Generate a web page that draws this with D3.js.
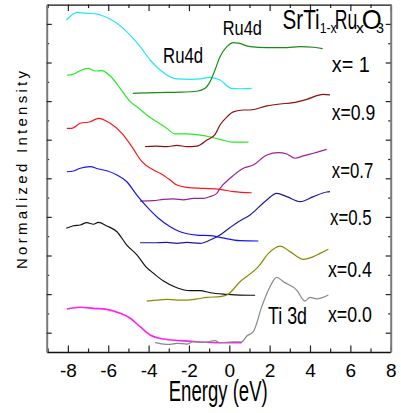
<!DOCTYPE html>
<html><head><meta charset="utf-8">
<script src="https://cdn.jsdelivr.net/npm/d3@7"></script>
<style>body{margin:0;background:#fff}svg{display:block}</style>
</head><body>
<svg id="c" width="401" height="413"></svg>
<script>
// ---------- data (Energy in eV, normalized intensity with vertical offsets) ----------
const xMajorTicks = [-8,-6,-4,-2,0,2,4,6,8];
const xMinorTicks = [-9,-7,-5,-3,-1,1,3,5,7];
const yMajorTicks = [1,3,5,7,9,11,13,15,17];
const yMinorTicks = [2,4,6,8,10,12,14,16];

const compositions = ["x= 1","x=0.9","x=0.7","x=0.5","x=0.4","x=0.0"];

const occ_x10 = [[-8.08,17.20],[-7.80,17.46],[-7.55,17.60],[-7.06,17.55],[-6.56,17.51],[-5.99,17.29],[-5.57,17.03],[-5.00,16.51],[-4.42,15.82],[-3.92,15.13],[-3.43,14.61],[-2.60,14.15],[-1.94,14.13],[-1.45,14.15],[-0.95,14.23],[-0.46,14.09],[0.12,13.66],[0.50,13.64],[1.11,13.66]];
const unocc_x10 = [[-4.78,13.40],[-3.59,13.44],[-2.44,13.46],[-1.61,13.51],[-1.20,13.66],[-1.00,13.92],[-0.75,14.50],[-0.46,15.30],[-0.12,15.82],[0.20,16.03],[0.45,16.00],[1.03,15.82],[1.86,15.77],[2.85,15.77],[3.51,15.82],[4.17,15.79],[4.63,15.72]];
const occ_x09 = [[-8.05,14.34],[-7.72,14.40],[-7.39,14.58],[-6.98,14.70],[-6.65,14.56],[-6.32,14.58],[-5.90,14.30],[-5.41,13.66],[-4.91,12.97],[-4.58,12.71],[-4.09,12.28],[-3.59,11.93],[-3.10,11.59],[-2.68,11.30],[-2.10,11.30],[-1.28,11.21],[-0.46,11.02],[0.20,10.87],[0.95,10.87]];
const unocc_x09 = [[-4.17,10.64],[-3.68,10.67],[-3.10,10.64],[-2.60,10.71],[-2.10,10.64],[-1.61,10.67],[-1.11,10.98],[-0.70,11.28],[-0.46,11.76],[-0.12,12.18],[0.20,12.44],[0.70,12.54],[1.03,12.54],[1.86,12.75],[2.52,12.85],[3.17,12.92],[3.84,13.09],[4.66,13.35],[4.99,13.32]];
const occ_x07 = [[-8.05,11.59],[-7.80,11.59],[-7.39,11.85],[-6.89,11.93],[-6.48,12.11],[-5.90,11.85],[-5.32,11.33],[-4.83,10.64],[-4.33,9.86],[-3.76,9.43],[-3.43,9.26],[-2.93,8.91],[-2.60,8.65],[-2.10,8.53],[-1.28,8.48],[-0.46,8.43],[0.20,8.31],[1.11,8.25]];
const unocc_x07 = [[-4.42,7.82],[-3.76,7.84],[-3.26,7.91],[-2.77,7.93],[-2.27,7.88],[-1.78,7.96],[-1.28,7.96],[-0.95,8.05],[-0.62,8.22],[-0.46,8.48],[0.04,9.00],[0.70,9.52],[1.19,9.69],[1.86,10.21],[2.43,10.33],[2.85,10.26],[3.26,10.04],[3.67,10.16],[4.17,10.30],[4.83,10.50]];
const occ_x05 = [[-8.05,9.34],[-7.72,9.38],[-7.39,9.52],[-6.89,9.60],[-6.48,9.48],[-6.07,9.39],[-5.57,9.17],[-5.08,8.82],[-4.58,8.13],[-4.09,7.53],[-3.51,6.93],[-2.93,6.49],[-2.44,6.23],[-1.61,6.06],[-0.95,6.03],[-0.46,5.94],[0.53,5.77],[1.44,5.75]];
const unocc_x05 = [[-4.42,5.66],[-3.76,5.66],[-3.10,5.68],[-2.60,5.63],[-2.10,5.68],[-1.45,5.63],[-0.95,5.80],[-0.46,6.06],[0.04,6.45],[0.45,6.75],[1.03,7.10],[1.86,7.88],[2.35,8.22],[2.85,8.05],[3.51,7.79],[4.17,8.05],[4.83,8.29],[4.99,8.31]];
const occ_x04 = [[-8.08,6.41],[-7.72,6.54],[-7.39,6.58],[-7.06,6.70],[-6.73,6.62],[-6.48,6.72],[-6.07,6.53],[-5.57,6.23],[-5.08,5.54],[-4.58,5.03],[-4.09,4.37],[-3.76,4.08],[-3.26,3.68],[-2.60,3.33],[-1.94,3.18],[-1.45,3.18],[-0.95,3.07],[-0.12,2.99],[0.53,2.95],[1.28,2.94]];
const unocc_x04 = [[-4.09,2.64],[-3.59,2.69],[-3.10,2.73],[-2.60,2.69],[-2.10,2.69],[-1.61,2.75],[-1.11,2.83],[-0.46,2.87],[-0.12,2.95],[0.53,3.64],[1.44,4.42],[1.94,5.11],[2.52,5.49],[3.01,5.20],[3.67,4.80],[4.17,4.94],[4.50,5.11],[4.91,5.32]];
const occ_x00 = [[-8.05,2.23],[-7.39,2.32],[-6.73,2.26],[-6.07,2.21],[-5.41,2.01],[-4.91,1.75],[-4.42,1.31],[-3.92,0.88],[-3.26,0.67],[-2.44,0.59],[-1.61,0.53],[-0.46,0.48],[0.62,0.48]];
const unocc_x00 = [[-3.68,0.50],[-3.26,0.41],[-2.93,0.40],[-2.60,0.45],[-2.10,0.41],[-1.78,0.53],[-1.28,0.50],[-0.70,0.59],[-0.46,0.48],[0.20,0.53],[0.62,0.53],[0.87,0.83],[1.19,1.05],[1.61,2.35],[1.94,3.21],[2.35,3.87],[2.68,3.64],[3.34,3.21],[3.75,2.64],[4.00,2.83],[4.33,2.75],[4.91,2.95]];

// styles (separate from data)
const seriesList = [
  {d: occ_x10, c: "#22e6f5", w: 1.2},
  {d: unocc_x10, c: "#168c16", w: 1.2},
  {d: occ_x09, c: "#22ee22", w: 1.2},
  {d: unocc_x09, c: "#8b1111", w: 1.2},
  {d: occ_x07, c: "#ff1515", w: 1.2},
  {d: unocc_x07, c: "#992299", w: 1.2},
  {d: occ_x05, c: "#1515ee", w: 1.2},
  {d: unocc_x05, c: "#1a1a99", w: 1.2},
  {d: occ_x04, c: "#111111", w: 1.2},
  {d: unocc_x04, c: "#8a8a00", w: 1.2},
  {d: occ_x00, c: "#ff22ee", w: 1.6},
  {d: unocc_x00, c: "#888888", w: 1.2}
];

// ---------- chart ----------
const FONT = "'Liberation Sans', Arial, Helvetica, sans-serif";
const svg = d3.select("#c");
const x = d3.scaleLinear().domain([-9.05, 8]).range([46.7, 390.7]);
const y = d3.scaleLinear().domain([0, 18]).range([352, 4.6]);

function clean(g, domainColor, domainWidth){
  g.select(".domain").attr("stroke", domainColor).attr("stroke-width", domainWidth);
  g.selectAll(".tick line").attr("stroke", "#222").attr("stroke-width", 1.2);
  g.attr("font-family", FONT);
}
function minor(g){ g.select(".domain").remove(); g.selectAll(".tick line").attr("stroke","#222").attr("stroke-width",1.2); }

// minor ticks
svg.append("g").attr("transform", `translate(0,${y(0)})`)
  .call(d3.axisBottom(x).tickValues(xMinorTicks).tickSizeInner(-3.5).tickSizeOuter(0).tickFormat("")).call(minor);
svg.append("g").attr("transform", `translate(0,${y(18)})`)
  .call(d3.axisTop(x).tickValues(xMinorTicks).tickSizeInner(-3.5).tickSizeOuter(0).tickFormat("")).call(minor);
svg.append("g").attr("transform", `translate(${x(-9.05)},0)`)
  .call(d3.axisLeft(y).tickValues(yMinorTicks).tickSizeInner(-2.5).tickSizeOuter(0).tickFormat("")).call(minor);
svg.append("g").attr("transform", `translate(${x(8)},0)`)
  .call(d3.axisRight(y).tickValues(yMinorTicks).tickSizeInner(-2.5).tickSizeOuter(0).tickFormat("")).call(minor);

// major axes
const gB = svg.append("g").attr("transform", `translate(0,${y(0)})`)
  .call(d3.axisBottom(x).tickValues(xMajorTicks).tickSizeInner(-6.5).tickSizeOuter(0).tickPadding(11.5).tickFormat(d => String(d)))
  .call(g => clean(g, "#111", 1.5));
gB.selectAll("text").attr("font-size", 19).attr("fill", "#000").attr("font-family", FONT);
svg.append("g").attr("transform", `translate(0,${y(18)})`)
  .call(d3.axisTop(x).tickValues(xMajorTicks).tickSizeInner(-6.5).tickSizeOuter(0).tickFormat(""))
  .call(g => clean(g, "#111", 1.3));
svg.append("g").attr("transform", `translate(${x(-9.05)},0)`)
  .call(d3.axisLeft(y).tickValues(yMajorTicks).tickSizeInner(-5).tickSizeOuter(0).tickFormat(""))
  .call(g => clean(g, "#7a7a7a", 2));
svg.append("g").attr("transform", `translate(${x(8)},0)`)
  .call(d3.axisRight(y).tickValues(yMajorTicks).tickSizeInner(-5).tickSizeOuter(0).tickFormat(""))
  .call(g => clean(g, "#7a7a7a", 2));

// curves
const line = d3.line().x(d => x(d[0])).y(d => y(d[1])).curve(d3.curveMonotoneX);
svg.append("g").selectAll("path").data(seriesList).join("path")
  .attr("d", s => line(s.d))
  .attr("fill", "none")
  .attr("stroke", s => s.c)
  .attr("stroke-width", s => s.w)
  .attr("stroke-linejoin", "round");

// text helper
function txt(str, ex, ev, size, len, anchor){
  const t = svg.append("text")
    .attr("x", x(ex)).attr("y", y(ev))
    .attr("font-family", FONT).attr("font-size", size).attr("fill", "#000")
    .text(str);
  if (len) t.attr("textLength", len).attr("lengthAdjust", "spacingAndGlyphs");
  if (anchor) t.attr("text-anchor", anchor);
  return t;
}

// composition labels
const labelPos = [[5.08,14.52,38],[5.08,12.02,43.5],[5.08,9.0,41.5],[4.99,6.58,41.7],[4.89,3.87,44],[4.89,1.57,44]];
compositions.forEach((c, i) => txt(c, labelPos[i][0], labelPos[i][1], 22.5, labelPos[i][2]));

// annotations
txt("Ru4d", -3.28, 14.97, 22, 40);
txt("Ru4d", -0.32, 16.42, 19.5, 39);
txt("Ti 3d", 1.92, 1.45, 24.5, 39);

// title SrTi(1-x)Ru(x)O3 as one text with tspans
const title = svg.append("text").attr("font-family", FONT).attr("fill", "#000");
const titleParts = [
  ["SrTi", 2.64, 16.74, 28, 37],
  ["1-x", 4.48, 16.55, 15, 17],
  ["Ru", 5.23, 16.74, 28, 22.5],
  ["x", 6.28, 16.55, 15, 8],
  ["O", 6.57, 16.74, 28, 20],
  ["3", 7.27, 16.55, 15, 8]
];
titleParts.forEach(p => {
  title.append("tspan").attr("x", x(p[1])).attr("y", y(p[2])).attr("font-size", p[3])
    .attr("textLength", p[4]).attr("lengthAdjust", "spacingAndGlyphs").text(p[0]);
});

// axis titles
svg.append("text").attr("x", x(-0.55)).attr("y", 400.5)
  .attr("font-family", FONT).attr("font-size", 29).attr("text-anchor", "middle")
  .attr("textLength", 99).attr("lengthAdjust", "spacingAndGlyphs")
  .text("Energy (eV)");
svg.append("text").attr("transform", "translate(27,170) rotate(-90)")
  .attr("font-family", FONT).attr("font-size", 15).attr("text-anchor", "middle")
  .attr("textLength", 198).attr("lengthAdjust", "spacing")
  .text("Normalized  Intensity");
</script>
</body></html>
